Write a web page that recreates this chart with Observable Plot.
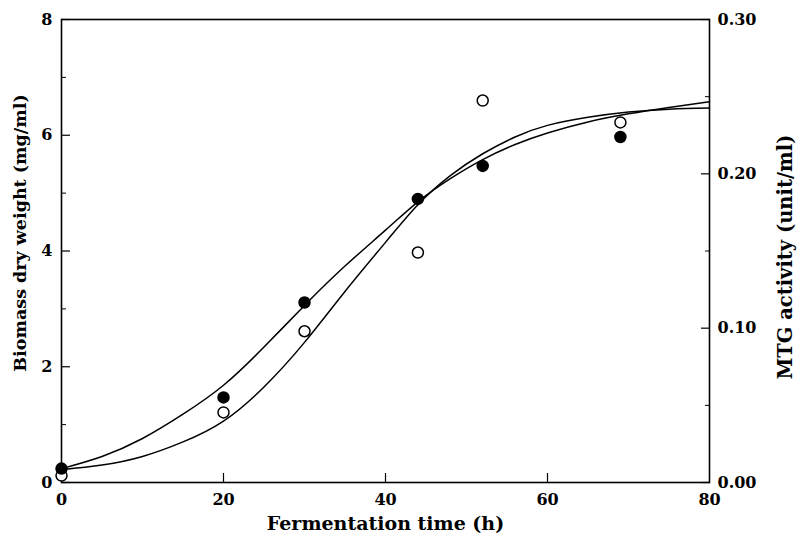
<!DOCTYPE html>
<html><head><meta charset="utf-8">
<script src="https://cdn.jsdelivr.net/npm/d3@7"></script>
<script src="https://cdn.jsdelivr.net/npm/@observablehq/plot@0.6"></script>
<style>body{margin:0;background:#fff}</style>
</head><body><div id="chart"></div>
<script>
// measured points
const hours = [0, 20, 30, 44, 52, 69];
const biomass = [0.24, 1.47, 3.11, 4.90, 5.47, 5.97];        // mg/ml (filled)
const mtg = [0.0045, 0.0454, 0.098, 0.149, 0.2475, 0.2333];  // unit/ml (open)
// fitted curves
const fitHours = [0, 5, 10, 15, 20, 25, 30, 35, 40, 44, 48, 52, 56, 60, 65, 70, 75, 80];
const biomassFit = [0.24, 0.45, 0.76, 1.18, 1.68, 2.34, 3.06, 3.74, 4.36, 4.85, 5.25, 5.58, 5.84, 6.04, 6.23, 6.37, 6.48, 6.58];
const mtgFit = [0.0083, 0.0113, 0.0169, 0.0263, 0.0398, 0.0619, 0.0908, 0.1238, 0.1556, 0.1800, 0.1988, 0.2130, 0.2239, 0.2314, 0.2366, 0.2400, 0.2419, 0.2426];
// ticks
const xTicks = [0, 20, 40, 60, 80];
const xInner = [20, 40, 60];
const leftTicks = [0, 2, 4, 6, 8];
const leftMinor = [1, 3, 5, 7];
const rightTicks = [0, 0.10, 0.20, 0.30];
const rightMinor = [0.05, 0.15, 0.25];
const k = 8 / 0.30; // right-axis units -> left-axis units

const pts = hours.map((h, i) => ({h, b: biomass[i], m: mtg[i] * k}));
const bFit = fitHours.map((h, i) => ({h, v: biomassFit[i]}));
const mFit = fitHours.map((h, i) => ({h, v: mtgFit[i] * k}));

const chart = Plot.plot({
  width: 802, height: 542,
  marginLeft: 61, marginRight: 93, marginTop: 19, marginBottom: 60,
  style: {fontFamily: "DejaVu Serif", fontWeight: "bold", fontSize: "16px", background: "#fff", color: "#000"},
  x: {domain: [0, 80]},
  y: {domain: [0, 8]},
  marks: [
    Plot.axisX({ticks: xTicks, tickSize: 0, tickPadding: 11, label: null}),
    Plot.axisX({ticks: xInner, tickSize: -9, text: null, label: null, strokeWidth: 1.2}),
    Plot.axisY({ticks: leftTicks, tickSize: 0, tickPadding: 9, label: null}),
    Plot.axisY({ticks: leftTicks, tickSize: -9, text: null, label: null, strokeWidth: 1.2}),
    Plot.axisY({ticks: leftMinor, tickSize: -5, text: null, label: null, strokeWidth: 1}),
    Plot.axisY({anchor: "right", ticks: rightTicks.map(v => v * k), tickFormat: d => (d / k).toFixed(2), tickSize: 0, tickPadding: 8, label: null}),
    Plot.axisY({anchor: "right", ticks: rightTicks.map(v => v * k), tickSize: -9, text: null, label: null, strokeWidth: 1.2}),
    Plot.axisY({anchor: "right", ticks: rightMinor.map(v => v * k), tickSize: -5, text: null, label: null, strokeWidth: 1}),
    Plot.frame({stroke: "#000", strokeWidth: 1.6}),
    Plot.line(bFit, {x: "h", y: "v", curve: "natural", stroke: "#000", strokeWidth: 1.5}),
    Plot.line(mFit, {x: "h", y: "v", curve: "natural", stroke: "#000", strokeWidth: 1.5}),
    Plot.dot(pts, {x: "h", y: "m", r: 5.5, fill: "#fff", stroke: "#000", strokeWidth: 1.5}),
    Plot.dot(pts, {x: "h", y: "b", r: 5.5, fill: "#000", stroke: "#000"}),
    Plot.text(["Fermentation time (h)"], {frameAnchor: "bottom", dy: 47, fontSize: 19, fontWeight: "bold", textAnchor: "middle"}),
    Plot.text(["Biomass dry weight (mg/ml)"], {frameAnchor: "left", dx: -41, dy: -18, rotate: -90, fontSize: 17.5, fontWeight: "bold", textAnchor: "middle"}),
    Plot.text(["MTG activity (unit/ml)"], {frameAnchor: "right", dx: 76, dy: 6, rotate: -90, fontSize: 19.5, fontWeight: "bold", textAnchor: "middle"})
  ]
});
document.getElementById("chart").appendChild(chart);
</script>
</body></html>
